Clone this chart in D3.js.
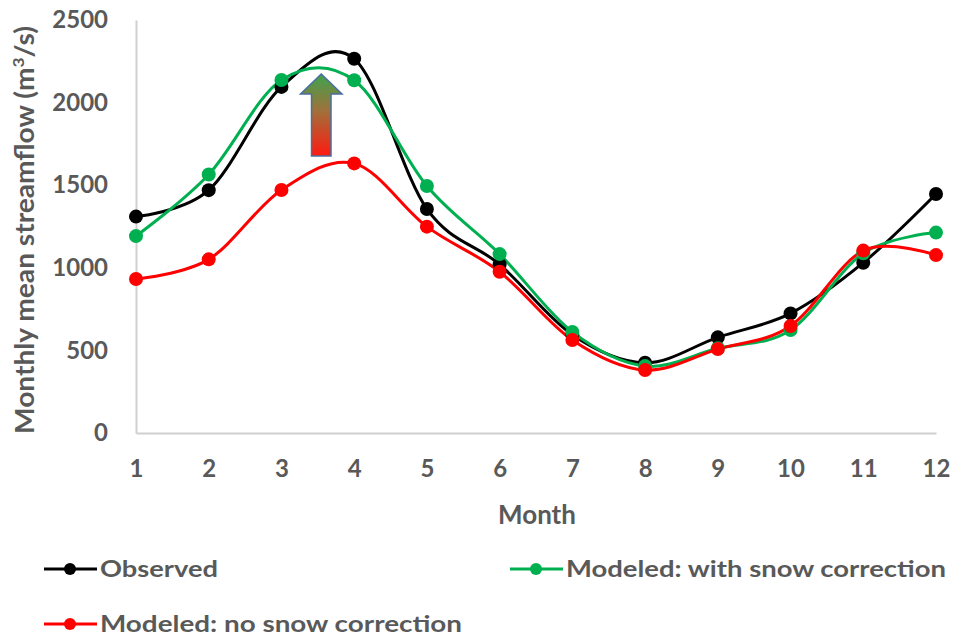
<!DOCTYPE html>
<html><head><meta charset="utf-8">
<script src="https://cdn.jsdelivr.net/npm/d3@7"></script>
<style>body{margin:0;background:#fff}svg{display:block}text{font-family:Lato,"Open Sans",sans-serif;font-weight:bold}</style>
</head><body><svg id="c" width="955" height="636"></svg>
<script>
const months = [1,2,3,4,5,6,7,8,9,10,11,12];
const observed = [1310,1470,2095,2265,1356,1020,595,425,579,724,1031,1447];
const withSnow = [1192,1565,2137,2135,1495,1083,612,405,513,623,1088,1213];
const noSnow   = [932,1051,1471,1632,1249,976,563,381,508,648,1104,1077];
const yTicks = [0,500,1000,1500,2000,2500];
const seriesNames = ["Observed","Modeled: with snow correction","Modeled: no snow correction"];
const seriesColors = ["#000000","#00b050","#ff0000"];

const svg = d3.select("#c");
const x = d3.scaleLinear().domain([1,12]).range([136,936]);
const y = d3.scaleLinear().domain([0,2500]).range([433,20]);
const grey = "#595959";

// axes
const xAxis = svg.append("g").attr("transform","translate(0,433)")
  .call(d3.axisBottom(x).tickValues(months).tickSize(0).tickPadding(27).tickFormat(d3.format("d")));
xAxis.select(".domain").attr("stroke","#d0d0d0").attr("stroke-width",2);
xAxis.selectAll("text").attr("fill",grey).attr("font-size",24).attr("font-family","Lato");
const yAxis = svg.append("g").attr("transform","translate(136,0)")
  .call(d3.axisLeft(y).tickValues(yTicks).tickSize(0).tickPadding(28).tickFormat(d3.format("d")));
yAxis.select(".domain").attr("stroke","#d0d0d0").attr("stroke-width",2);
yAxis.selectAll("text").attr("fill",grey).attr("font-size",24).attr("font-family","Lato");

// titles
svg.append("text").attr("x",537).attr("y",524).attr("text-anchor","middle")
  .attr("fill",grey).attr("font-size",26).text("Month");
const yt = svg.append("text").attr("transform","translate(34,230) rotate(-90)").attr("text-anchor","middle")
  .attr("fill",grey).attr("font-size",26).attr("textLength",408).attr("lengthAdjust","spacingAndGlyphs");
yt.append("tspan").text("Monthly mean streamflow (m");
yt.append("tspan").attr("font-size",16).attr("dy",-10).text("3");
yt.append("tspan").attr("dy",10).text("/s)");

// arrow with gradient
const defs = svg.append("defs");
const grad = defs.append("linearGradient").attr("id","ag").attr("x1",0).attr("y1",0).attr("x2",0).attr("y2",1);
grad.append("stop").attr("offset","0%").attr("stop-color","#3fa34d");
grad.append("stop").attr("offset","45%").attr("stop-color","#a0703a");
grad.append("stop").attr("offset","100%").attr("stop-color","#ff1a10");
const ax = [300.5, 311.5, 331, 342], ay=[74,94,156];
svg.append("path")
  .attr("d",`M${(ax[0]+ax[3])/2},${ay[0]} L${ax[3]},${ay[1]} L${ax[2]},${ay[1]} L${ax[2]},${ay[2]} L${ax[1]},${ay[2]} L${ax[1]},${ay[1]} L${ax[0]},${ay[1]} Z`)
  .attr("fill","url(#ag)").attr("stroke","#4a6fa0").attr("stroke-width",1.5).attr("stroke-linejoin","miter");

// lines
const allSeries = [observed, withSnow, noSnow];
const line = d3.line().x((d,i)=>x(months[i])).y(d=>y(d)).curve(d3.curveCatmullRom.alpha(0));
const order = [0,1,2];
order.forEach(k=>{
  svg.append("path").datum(allSeries[k]).attr("d",line).attr("fill","none")
    .attr("stroke",seriesColors[k]).attr("stroke-width",3);
});
order.forEach(k=>{
  svg.append("g").selectAll("circle").data(allSeries[k]).join("circle")
    .attr("cx",(d,i)=>x(months[i])).attr("cy",d=>y(d)).attr("r",7).attr("fill",seriesColors[k]);
});

// legend
const leg = [
  {i:0, lx:44, ly:569, tl:118},
  {i:1, lx:510, ly:569, tl:380},
  {i:2, lx:44, ly:624, tl:362}
];
leg.forEach(o=>{
  const g = svg.append("g");
  g.append("line").attr("x1",o.lx).attr("x2",o.lx+53).attr("y1",o.ly).attr("y2",o.ly)
    .attr("stroke",seriesColors[o.i]).attr("stroke-width",3);
  g.append("circle").attr("cx",o.lx+26).attr("cy",o.ly).attr("r",6).attr("fill",seriesColors[o.i]);
  g.append("text").attr("x",o.lx+56).attr("y",o.ly+8).attr("fill",grey).attr("font-size",23)
    .attr("textLength",o.tl).attr("lengthAdjust","spacingAndGlyphs").text(seriesNames[o.i]);
});
</script></body></html>
